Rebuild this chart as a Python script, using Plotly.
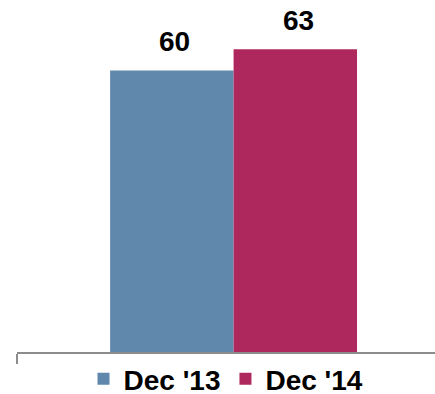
import plotly.graph_objects as go

categories = ["Total"]
series_names = ["Dec '13", "Dec '14"]
series_values = [[60], [63]]
colors = ["#5f88ac", "#ae285d"]

FONT = "Liberation Sans, Arial, sans-serif"

fig = go.Figure()
for name, vals, col in zip(series_names, series_values, colors):
    fig.add_trace(go.Bar(
        x=categories, y=vals, name=name, marker=dict(color=col, line=dict(width=0)),
    ))

# value labels above bars
bar_px = 123.5
for i, (name, vals) in enumerate(zip(series_names, series_values)):
    for c, v in zip(categories, vals):
        fig.add_annotation(
            x=c, y=v, xref="x", yref="y", text=str(v), showarrow=False,
            xshift=(i - 0.5) * bar_px + 3, yshift=11, yanchor="bottom",
            font=dict(family=FONT, size=28, color="#000000", weight="bold"),
        )

fig.update_layout(
    width=435, height=394,
    margin=dict(l=17, r=0, t=0, b=42, autoexpand=False),
    paper_bgcolor="white", plot_bgcolor="white",
    barmode="group", bargap=0.43, bargroupgap=0,
    showlegend=True,
    legend=dict(
        orientation="h", x=0.5, xanchor="center", y=-0.077, yanchor="middle",
        font=dict(family=FONT, size=28, color="#000000", weight="bold"),
        itemwidth=30, tracegroupgap=0,
    ),
    xaxis=dict(
        type="category", range=[-0.5, 0.465], showticklabels=False,
        showline=True, linecolor="#8c8c8c", linewidth=1.5,
        ticks="outside", tickson="boundaries", ticklen=10, tickcolor="#8c8c8c", tickwidth=1.5,
        showgrid=False, zeroline=False,
    ),
    yaxis=dict(range=[20, 70], visible=False, showgrid=False, zeroline=False),
)

fig.write_html("out.html")
